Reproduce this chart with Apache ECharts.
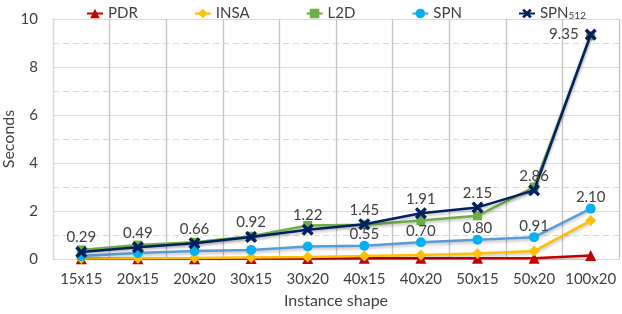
<!DOCTYPE html>
<html><head><meta charset="utf-8">
<script src="https://cdn.jsdelivr.net/npm/echarts@6/dist/echarts.min.js"></script>
<style>html,body{margin:0;padding:0;background:#fff}#c{width:622px;height:314px}</style>
</head><body><div id="c"></div>
<script>
const categories = ['15x15','20x15','20x20','30x15','30x20','40x15','40x20','50x15','50x20','100x20'];
const pdr    = [0.01,0.01,0.01,0.02,0.02,0.03,0.03,0.03,0.03,0.15];
const insa   = [0.02,0.03,0.04,0.06,0.08,0.12,0.17,0.23,0.33,1.60];
const l2d    = [0.38,0.58,0.70,0.95,1.40,1.43,1.60,1.80,3.00,9.30];
const spn    = [0.12,0.25,0.33,0.38,0.52,0.55,0.70,0.80,0.91,2.10];
const spn512 = [0.29,0.49,0.66,0.92,1.22,1.45,1.91,2.15,2.86,9.35];
const yTicks = [0,2,4,6,8,10];

const FONT = 'Lato';
const TXT = '#404040';
const XPATH = 'path://M2,0 L5,3 L8,0 L10,2 L7,5 L10,8 L8,10 L5,7 L2,10 L0,8 L3,5 L0,2 Z';
const shadow = {shadowColor:'rgba(0,0,0,0.25)', shadowBlur:3, shadowOffsetY:2};

function mk(name, data, lineColor, markColor, symbol, size, extra) {
  return Object.assign({
    name, type:'line', data, symbol, symbolSize:size, z: 3,
    lineStyle:Object.assign({color:lineColor, width:2.5}, shadow),
    itemStyle:{color:markColor, borderWidth:0},
  }, extra||{});
}
const labelStyle = {show:true, position:'top', fontFamily:FONT, fontSize:15, color:TXT};

const chart = echarts.init(document.getElementById('c'), null, {renderer:'canvas'});
chart.setOption({
  animation:false,
  textStyle:{fontFamily:FONT},
  legend:{
    top:1, left:81, itemWidth:16, itemHeight:12, itemGap:56,
    textStyle:{fontFamily:FONT, fontSize:15, color:TXT, rich:{sub:{fontSize:10, color:TXT, fontFamily:FONT, verticalAlign:'bottom', padding:[5,0,0,0]}}},
    formatter: n => n==='SPN512' ? 'SPN{sub|512}' : n,
    data:['PDR','INSA','L2D','SPN','SPN512']
  },
  grid:{left:53, right:3, top:19, bottom:55, outerBoundsMode:'none', containLabel:false},
  xAxis:{
    type:'category', data:categories, boundaryGap:true,
    axisLine:{lineStyle:{color:'#d9d9d9'}}, axisTick:{show:false},
    axisLabel:{fontFamily:FONT, fontSize:15, color:TXT, margin:13, interval:0},
    splitLine:{show:true, interval:0, lineStyle:{color:'#c4c4c4', width:1.3}},
    name:'Instance shape', nameLocation:'middle', nameGap:34, nameMoveOverlap:false,
    nameTextStyle:{fontFamily:FONT, fontSize:16, color:TXT}
  },
  yAxis:{
    type:'value', min:yTicks[0], max:yTicks[yTicks.length-1], interval:2,
    axisLine:{show:true, lineStyle:{color:'#d9d9d9'}}, axisTick:{show:false},
    axisLabel:{fontFamily:FONT, fontSize:15, color:TXT, margin:15},
    splitLine:{lineStyle:{color:'#d9d9d9', width:1}},
    minorTick:{show:false, splitNumber:2},
    minorSplitLine:{show:true, lineStyle:{color:'#d9d9d9', type:[6,4], width:1}},
    name:'Seconds', nameLocation:'middle', nameGap:36, nameMoveOverlap:false,
    nameTextStyle:{fontFamily:FONT, fontSize:16, color:TXT}
  },
  series:[
    mk('PDR', pdr, '#C00000', '#C00000', 'triangle', 11),
    mk('INSA', insa, '#FFC000', '#FFC000', 'diamond', 11),
    mk('L2D', l2d, '#70AD47', '#70AD47', 'rect', 9),
    mk('SPN', spn, '#5B9BD5', '#00B0F0', 'circle', 10, {
      label:Object.assign({}, labelStyle, {distance:-1, formatter:p=>p.dataIndex>=5?p.value.toFixed(2):''}),
      labelLayout:{hideOverlap:false, moveOverlap:null}
    }),
    mk('SPN512', spn512, '#002060', '#002060', XPATH, 12, {
      z:4,
      label:Object.assign({}, labelStyle, {distance:1, formatter:p=>p.value.toFixed(2)}),
      labelLayout:{hideOverlap:false, moveOverlap:null},
      data: spn512.map((v,i)=> i===spn512.length-1 ? {value:v, label:{position:'left', distance:6}} : v)
    })
  ]
});
</script></body></html>
